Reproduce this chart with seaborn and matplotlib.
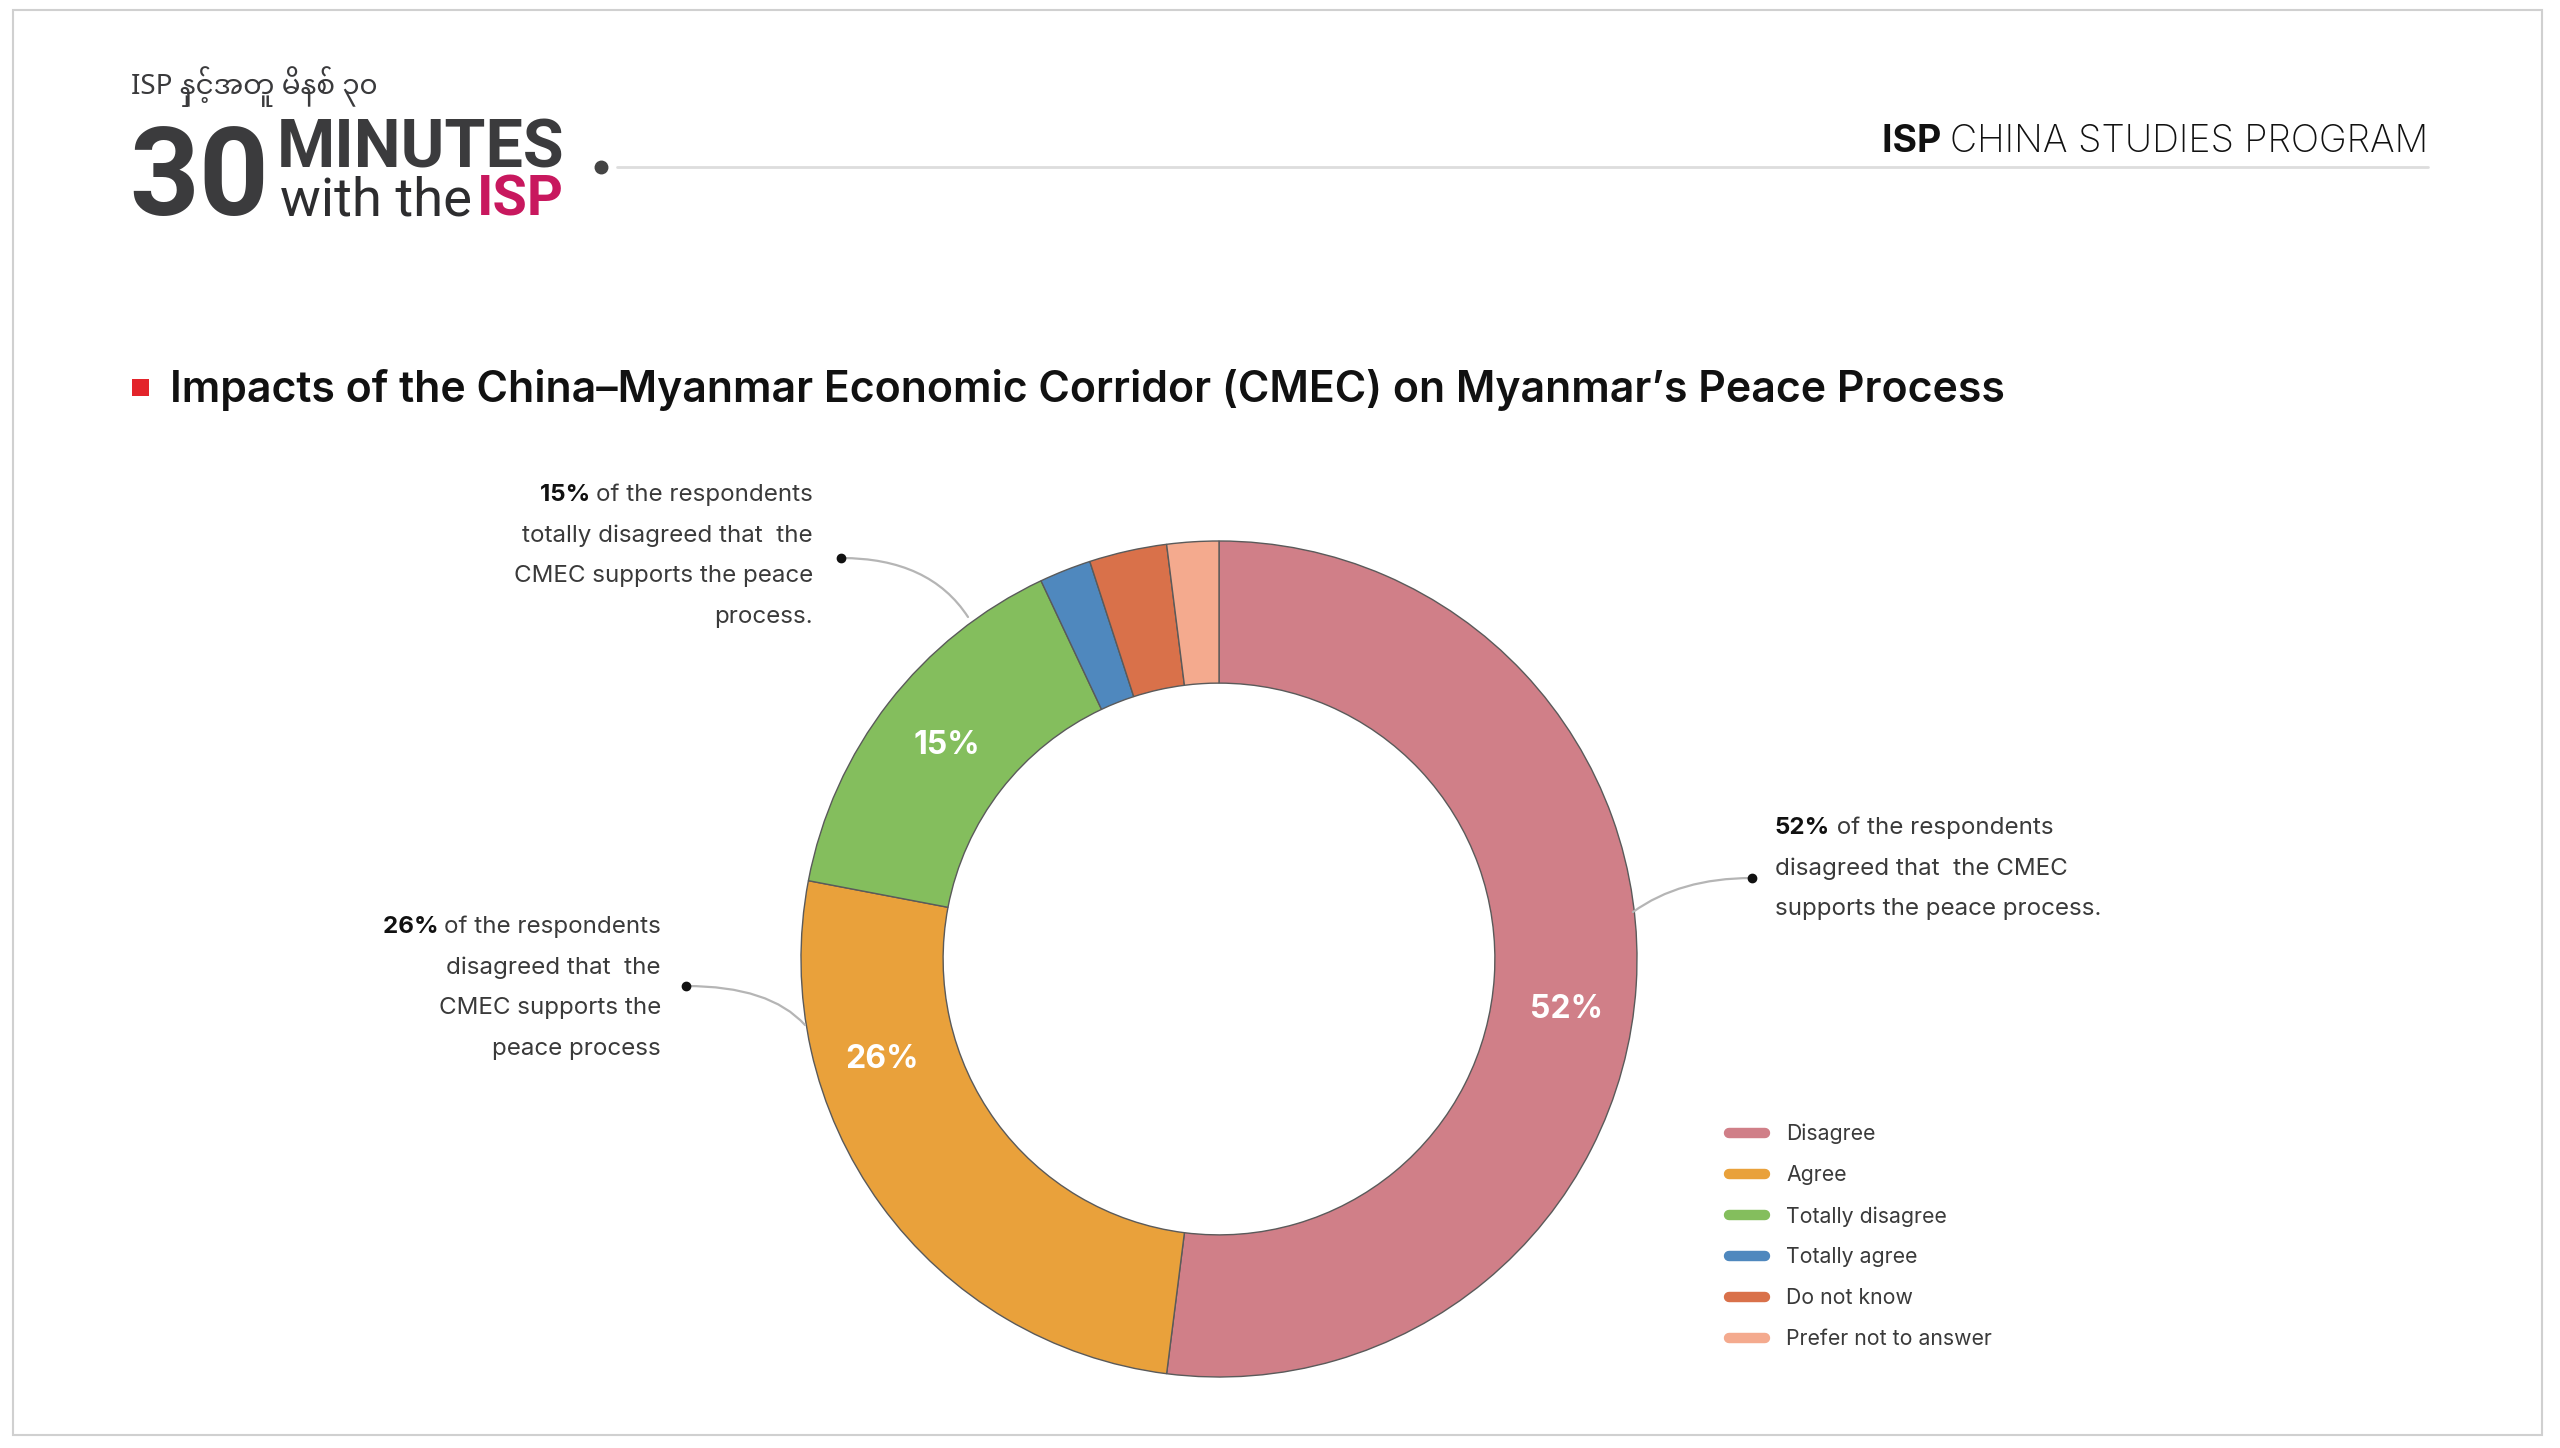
import matplotlib
matplotlib.use("Agg")
import matplotlib.pyplot as plt
import seaborn as sns
from matplotlib.lines import Line2D
from matplotlib.patches import Rectangle

# ---------------- data ----------------
categories = ["Disagree", "Agree", "Totally disagree", "Totally agree",
              "Do not know", "Prefer not to answer"]
shares = [52, 26, 15, 2, 3, 2]
colors = ["#D07F88", "#E9A13B", "#84BE5D", "#4F88BE", "#D9714A", "#F4AA8E"]
inner_labels = ["52%", "26%", "15%"]

title = "Impacts of the China\u2013Myanmar Economic Corridor (CMEC) on Myanmar\u2019s Peace Process"
note_52 = ["of the respondents", "disagreed that  the CMEC", "supports the peace process."]
note_26 = ["of the respondents", "disagreed that  the", "CMEC supports the", "peace process"]
note_15 = ["of the respondents", "totally disagreed that  the", "CMEC supports the peace", "process."]

sns.set_theme(style="white")
plt.rcParams['font.family'] = ['Inter', 'DejaVu Sans']

W, H = 2560, 1448
fig = plt.figure(figsize=(W / 100, H / 100), dpi=100)
fig.patch.set_facecolor("white")

ov = fig.add_axes([0, 0, 1, 1])
ov.set_xlim(0, W)
ov.set_ylim(H, 0)
ov.axis("off")
ov.set_zorder(3)

renderer = fig.canvas.get_renderer()


def fit(t, target_w):
    bb = t.get_window_extent(renderer)
    t.set_fontsize(t.get_fontsize() * target_w / bb.width)


# frame
ov.add_patch(Rectangle((13, 10), 2529, 1425, fill=False, ec="#d0d0d0", lw=1.5))

# ---------------- header / logo ----------------
ov.text(131, 94, "ISP \u1014\u103e\u1004\u103a\u1037\u1021\u1010\u1030 \u1019\u102d\u1014\u1005\u103a \u1043\u1040",
        fontsize=20, color="#3a3a3c", va="baseline", ha="left",
        family=["Noto Sans Myanmar", "Padauk", "Noto Sans", "DejaVu Sans"])
t30 = ov.text(129, 215, "30", fontsize=98, fontweight="bold", color="#3b3b3d",
              va="baseline", ha="left", family=["Roboto", "DejaVu Sans"])
fit(t30, 140)
tmin = ov.text(277, 168, "MINUTES", fontsize=50, fontweight="bold", color="#3b3b3d",
               va="baseline", ha="left", family=["Roboto", "DejaVu Sans"])
fit(tmin, 287)
twith = ov.text(280, 215, "with the", fontsize=44, color="#2d2d2f",
                va="baseline", ha="left", family=["Roboto", "DejaVu Sans"])
fit(twith, 192)
ov.annotate("ISP", xy=(1, 0), xycoords=twith, xytext=(5, 0), textcoords="offset pixels",
            fontsize=twith.get_fontsize() * 1.03, fontweight="bold", color="#C8185E",
            va="bottom", ha="left", family=["Roboto", "DejaVu Sans"])

ov.plot([601], [167], "o", ms=9, color="#444444")
ov.plot([617, 2428], [167, 167], color="#dddddd", lw=2)

thead = ov.text(2428, 152, "CHINA STUDIES PROGRAM", fontsize=27, fontweight="light",
                color="#111111", va="baseline", ha="right")
ov.annotate("ISP ", xy=(0, 0), xycoords=thead, ha="right", va="bottom",
            fontsize=27, fontweight="bold", color="#111111")

# ---------------- title ----------------
ov.add_patch(Rectangle((132, 379), 17, 17, color="#E3242B", lw=0))
ttl = ov.text(170, 402, title, fontsize=30, fontweight="semibold", color="#111111",
              va="baseline", ha="left")
fit(ttl, 1830)

# ---------------- donut ----------------
cx, cy, R = 1219, 959, 418
pax = fig.add_axes([(cx - R) / W, 1 - (cy + R) / H, 2 * R / W, 2 * R / H])
pax.set_zorder(2)
wedges, _ = pax.pie(shares, colors=colors, startangle=90, counterclock=False,
                    radius=1, wedgeprops=dict(width=0.34, edgecolor="#5a5a5a", linewidth=1.0))
pax.set_xlim(-1, 1)
pax.set_ylim(-1, 1)
pax.patch.set_visible(False)

label_pos = [(1566, 1009), (882, 1060), (947, 746)]
for (x, y), lab in zip(label_pos, inner_labels):
    ov.text(x, y, lab, fontsize=23, fontweight="bold", color="white",
            ha="center", va="center", zorder=10)

# ---------------- annotations ----------------
txtc = "#3a3a3a"
fs_note = 17.4
step = 40.5


def block(x, y0, pct, lines):
    objs = []
    for i, ln in enumerate(lines):
        t = ov.text(x, y0 + i * step, ln, fontsize=fs_note, color=txtc,
                    ha="right", va="center")
        objs.append(t)
    ov.annotate(pct + " ", xy=(0, 0.5), xycoords=objs[0], ha="right", va="center",
                fontsize=fs_note, fontweight="bold", color="#111111")
    return objs


block(813, 495, "15%", note_15)
block(661, 927, "26%", note_26)
p52 = ov.text(1775, 828, "52%", fontsize=fs_note, fontweight="bold", color="#111111",
              ha="left", va="center")
ov.annotate(" " + note_52[0], xy=(1, 0.5), xycoords=p52, ha="left", va="center",
            fontsize=fs_note, color=txtc)
for i, ln in enumerate(note_52[1:], start=1):
    ov.text(1775, 828 + i * step, ln, fontsize=fs_note, color=txtc, ha="left", va="center")

conn = dict(arrowstyle="-", color="#b5b5b5", lw=1.6, shrinkA=0, shrinkB=0)
ov.annotate("", xy=(968, 617), xytext=(841, 558),
            arrowprops=dict(conn, connectionstyle="angle3,angleA=0,angleB=123"))
ov.annotate("", xy=(805, 1025), xytext=(686, 986),
            arrowprops=dict(conn, connectionstyle="angle3,angleA=0,angleB=132"))
ov.annotate("", xy=(1633, 912), xytext=(1752, 878),
            arrowprops=dict(conn, connectionstyle="angle3,angleA=0,angleB=36"))
ov.plot([841, 686, 1752], [558, 986, 878], "o", ms=6, color="#111111", zorder=5)

# ---------------- legend ----------------
handles = [Line2D([0], [0], color=c, lw=7.5, solid_capstyle="round") for c in colors]
leg = ov.legend(handles, categories, loc="upper left",
                bbox_to_anchor=(1729 / W, 1 - 1124 / H), bbox_transform=fig.transFigure,
                frameon=False, fontsize=15.3, handlelength=1.7, handletextpad=1.0,
                labelspacing=0.98, borderpad=0, borderaxespad=0)
for t in leg.get_texts():
    t.set_color("#3a3a3a")

fig.savefig("out.png", dpi=100, facecolor="white")
